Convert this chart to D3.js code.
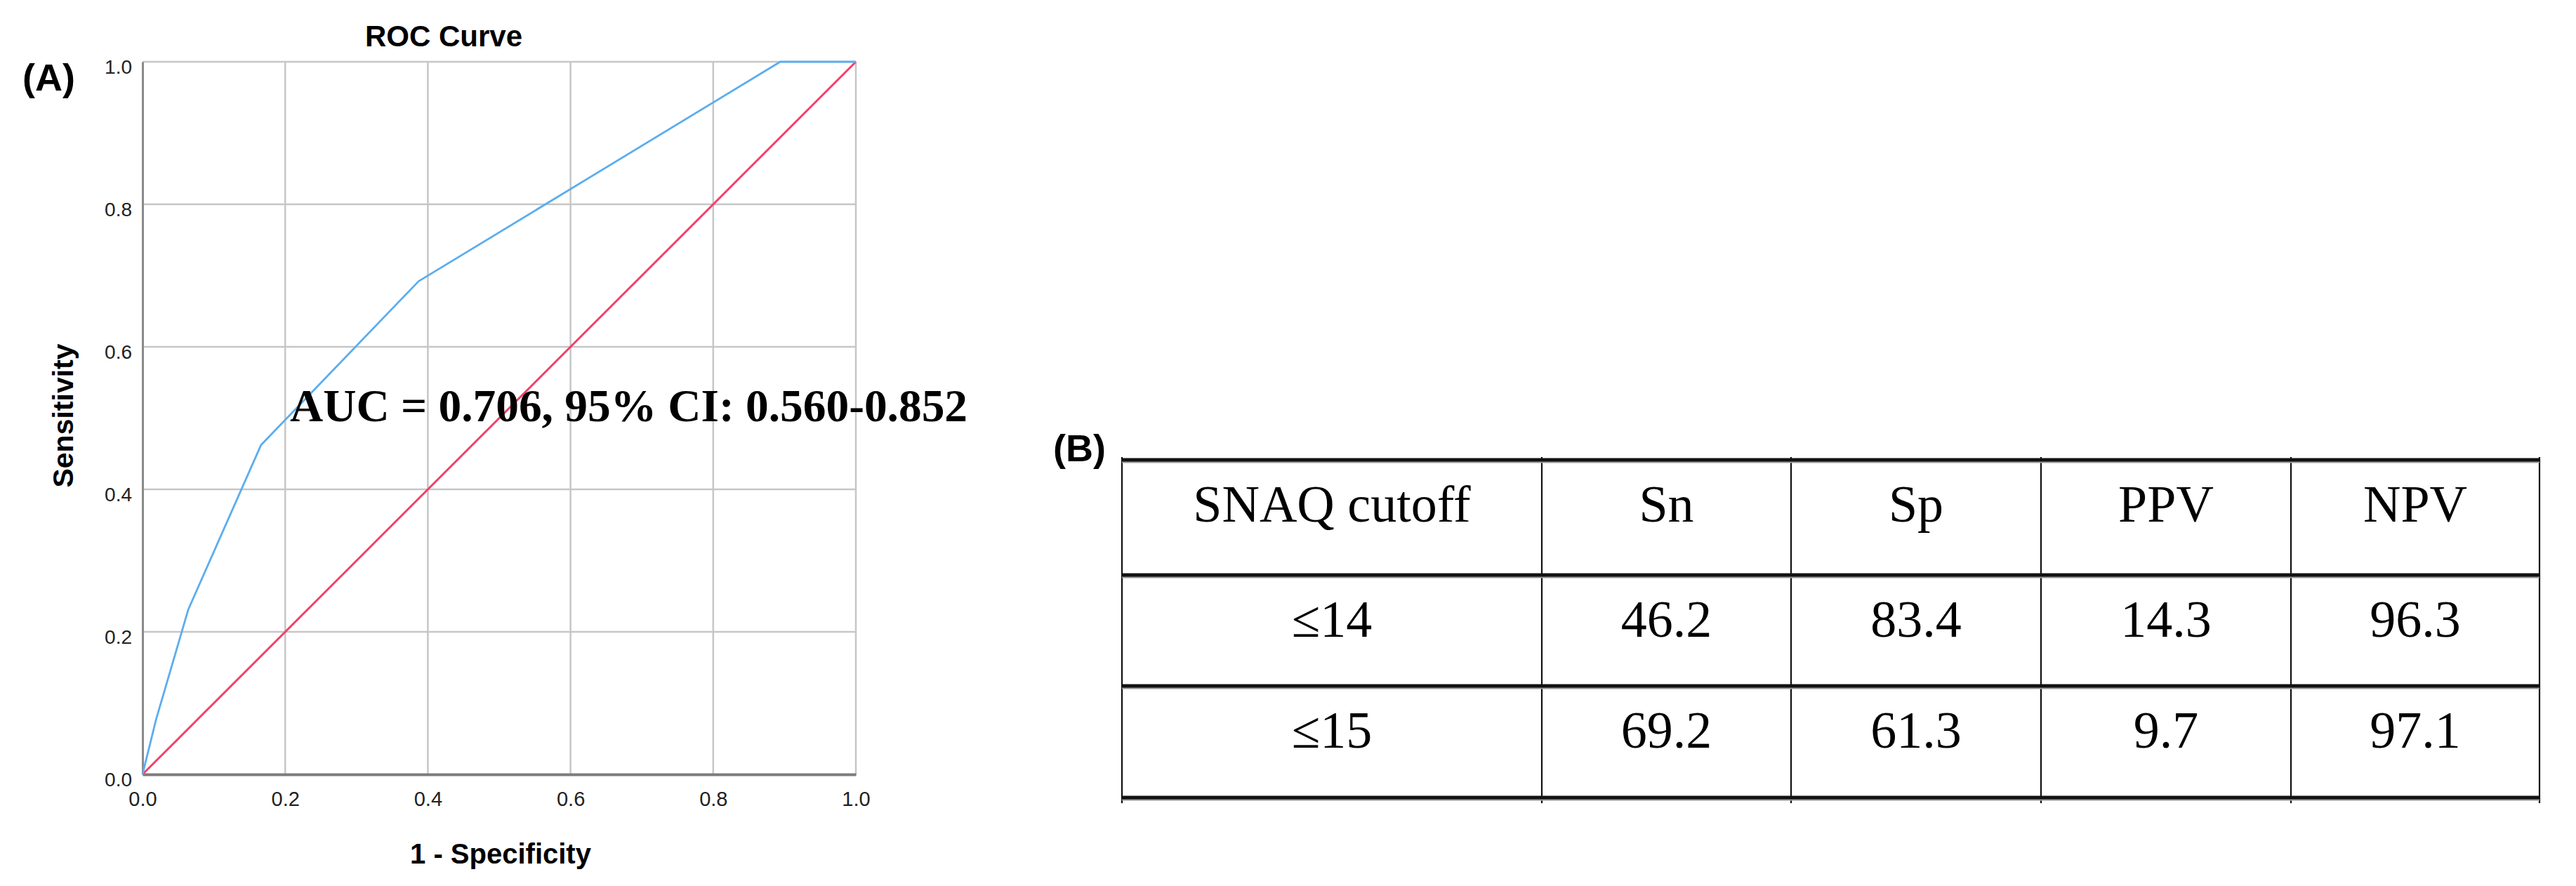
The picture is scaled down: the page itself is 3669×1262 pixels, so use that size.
<!DOCTYPE html>
<html>
<head>
<meta charset="utf-8">
<script src="https://cdn.jsdelivr.net/npm/d3@7"></script>
<style>
  html, body { margin: 0; padding: 0; background: #ffffff; }
  svg { display: block; }
</style>
</head>
<body>
<script>
// ---------------- DATA ----------------
const rocFPR = [0, 0.019, 0.064, 0.166, 0.387, 0.894, 1.0];   // 1 - Specificity
const rocTPR = [0, 0.077, 0.231, 0.462, 0.692, 1.0, 1.0];     // Sensitivity
const refFPR = [0, 1];
const refTPR = [0, 1];
const axisTicks = [0, 0.2, 0.4, 0.6, 0.8, 1.0];
const chartTitle = "ROC Curve";
const xLabel = "1 - Specificity";
const yLabel = "Sensitivity";
const aucText = "AUC = 0.706, 95% CI: 0.560-0.852";

const tableHeaders = ["SNAQ cutoff", "Sn", "Sp", "PPV", "NPV"];
const cutoffs = ["\u226414", "\u226415"];
const snValues = [46.2, 69.2];
const spValues = [83.4, 61.3];
const ppvValues = [14.3, 9.7];
const npvValues = [96.3, 97.1];

// ---------------- LAYOUT ----------------
const W = 3669, H = 1262;
const svg = d3.select("body").append("svg").attr("width", W).attr("height", H)
  .style("background", "#fff");

const plot = { left: 203, right: 1219, top: 88, bottom: 1103 };
const x = d3.scaleLinear().domain([0, 1]).range([plot.left, plot.right]);
const y = d3.scaleLinear().domain([0, 1]).range([plot.bottom, plot.top]);

const sans = "'Liberation Sans', Arial, Helvetica, sans-serif";
const serif = "'Liberation Serif', 'Times New Roman', serif";

// panel label (A)
svg.append("text").attr("x", 32).attr("y", 129)
  .attr("font-family", sans).attr("font-weight", "bold").attr("font-size", 54)
  .attr("fill", "#000").text("(A)");

// gridlines
const gridColor = "#c6c6c6";
svg.append("g").selectAll("line.vg").data(axisTicks.filter(d => d > 0)).join("line")
  .attr("x1", d => x(d)).attr("x2", d => x(d))
  .attr("y1", y(0)).attr("y2", y(1))
  .attr("stroke", gridColor).attr("stroke-width", 2.5);
svg.append("g").selectAll("line.hg").data(axisTicks.filter(d => d > 0)).join("line")
  .attr("y1", d => y(d)).attr("y2", d => y(d))
  .attr("x1", x(0)).attr("x2", x(1))
  .attr("stroke", gridColor).attr("stroke-width", 2.5);

// axes
const xAxis = d3.axisBottom(x).tickValues(axisTicks).tickSize(0).tickPadding(0)
  .tickFormat(d3.format(".1f"));
const yAxis = d3.axisLeft(y).tickValues(axisTicks).tickSize(0).tickPadding(0)
  .tickFormat(d3.format(".1f"));

const gx = svg.append("g").attr("transform", `translate(0,${plot.bottom})`).call(xAxis);
gx.select(".domain").attr("stroke", "#7c7c7c").attr("stroke-width", 4);
gx.selectAll("text").attr("font-family", sans).attr("font-size", 29)
  .attr("fill", "#222").attr("dy", null).attr("y", 45);

const gy = svg.append("g").attr("transform", `translate(${plot.left},0)`).call(yAxis);
gy.select(".domain").attr("stroke", "#8a8a8a").attr("stroke-width", 3);
gy.selectAll("text").attr("font-family", sans).attr("font-size", 28)
  .attr("fill", "#222").attr("dy", null).attr("x", -15).attr("y", 16);

// reference diagonal
const line = d3.line().x(d => x(d[0])).y(d => y(d[1]));
svg.append("path").datum(d3.zip(refFPR, refTPR)).attr("d", line)
  .attr("fill", "none").attr("stroke", "#f5406a").attr("stroke-width", 3);

// ROC curve
svg.append("path").datum(d3.zip(rocFPR, rocTPR)).attr("d", line)
  .attr("fill", "none").attr("stroke", "#5cadee").attr("stroke-width", 2.8)
  .attr("stroke-linejoin", "round");

// title & axis labels
svg.append("text").attr("x", 632).attr("y", 66).attr("text-anchor", "middle")
  .attr("font-family", sans).attr("font-weight", "bold").attr("font-size", 42)
  .attr("fill", "#000").text(chartTitle);
svg.append("text").attr("x", 713).attr("y", 1230).attr("text-anchor", "middle")
  .attr("font-family", sans).attr("font-weight", "bold").attr("font-size", 40)
  .attr("fill", "#000").text(xLabel);
svg.append("text").attr("transform", "translate(104,592) rotate(-90)")
  .attr("text-anchor", "middle")
  .attr("font-family", sans).attr("font-weight", "bold").attr("font-size", 41)
  .attr("fill", "#000").text(yLabel);

// AUC annotation
svg.append("text").attr("x", 413).attr("y", 600)
  .attr("font-family", serif).attr("font-weight", "bold").attr("font-size", 65)
  .attr("fill", "#000").attr("textLength", 965).attr("lengthAdjust", "spacingAndGlyphs")
  .text(aucText);

// ---------------- TABLE (B) ----------------
svg.append("text").attr("x", 1500).attr("y", 657)
  .attr("font-family", sans).attr("font-weight", "bold").attr("font-size", 54)
  .attr("fill", "#000").text("(B)");

const colEdges = [1598, 2196, 2551, 2907, 3263, 3617];
const rowEdges = [655, 819, 977, 1136];

const rows = [tableHeaders].concat(cutoffs.map((c, i) => [
  c,
  snValues[i].toFixed(1),
  spValues[i].toFixed(1),
  ppvValues[i].toFixed(1),
  npvValues[i].toFixed(1)
]));

const tg = svg.append("g");
// vertical lines
tg.selectAll("line.v").data(colEdges).join("line")
  .attr("x1", d => d).attr("x2", d => d)
  .attr("y1", rowEdges[0] - 4).attr("y2", rowEdges[rowEdges.length - 1] + 8)
  .attr("stroke", "#111").attr("stroke-width", 2.2);
// horizontal lines (thick, with soft shadow)
tg.selectAll("line.hs").data(rowEdges).join("line")
  .attr("x1", colEdges[0]).attr("x2", colEdges[colEdges.length - 1])
  .attr("y1", d => d + 3).attr("y2", d => d + 3)
  .attr("stroke", "#9a9a9a").attr("stroke-width", 3);
tg.selectAll("line.h").data(rowEdges).join("line")
  .attr("x1", colEdges[0]).attr("x2", colEdges[colEdges.length - 1])
  .attr("y1", d => d).attr("y2", d => d)
  .attr("stroke", "#111").attr("stroke-width", 5);

// cell text
rows.forEach((r, ri) => {
  tg.selectAll(null).data(r).join("text")
    .attr("x", (d, ci) => (colEdges[ci] + colEdges[ci + 1]) / 2)
    .attr("y", rowEdges[ri] + 88)
    .attr("text-anchor", "middle")
    .attr("font-family", serif).attr("font-size", 74)
    .attr("fill", "#000")
    .text(d => d);
});
</script>
</body>
</html>
